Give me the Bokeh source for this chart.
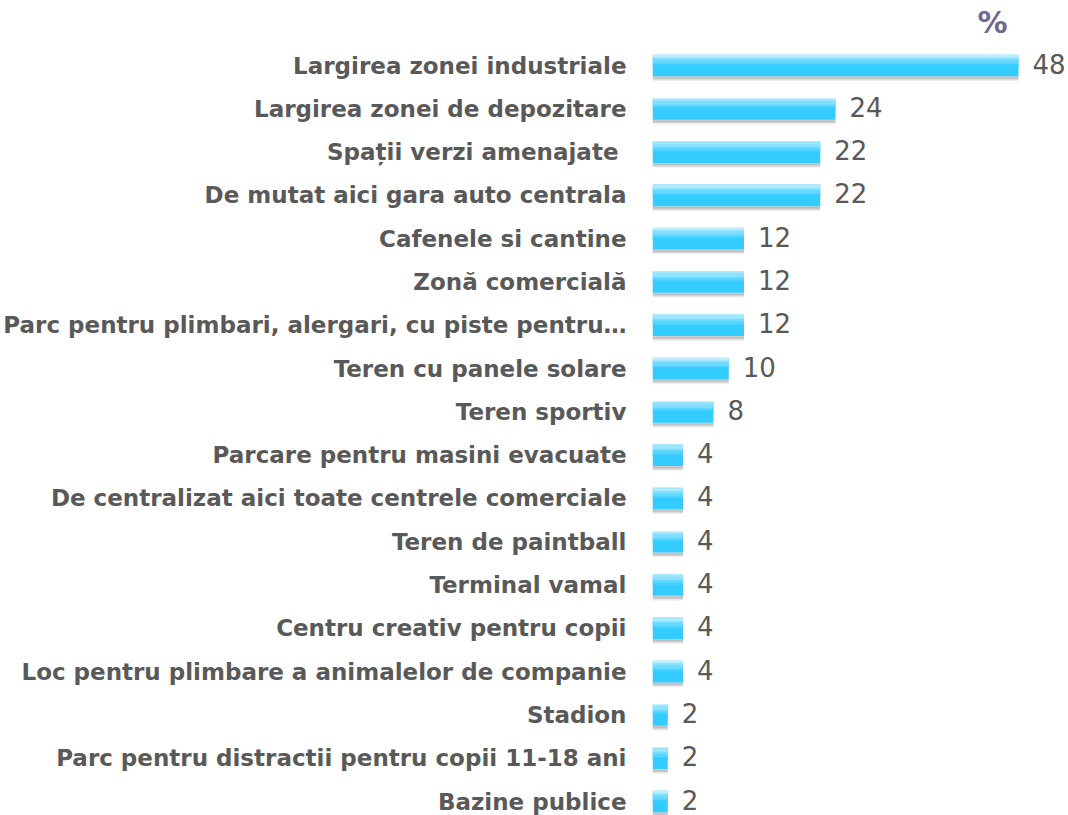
from bokeh.plotting import figure
from bokeh.models import Range1d, FixedTicker, ColumnDataSource, LabelSet
from bokeh.core.properties import value
from bokeh.embed import file_html
from bokeh.resources import INLINE

categories = [
    "Largirea zonei industriale",
    "Largirea zonei de depozitare",
    "Spații verzi amenajate ",
    "De mutat aici gara auto centrala",
    "Cafenele si cantine",
    "Zonă comercială",
    "Parc pentru plimbari, alergari, cu piste pentru…",
    "Teren cu panele solare",
    "Teren sportiv",
    "Parcare pentru masini evacuate",
    "De centralizat aici toate centrele comerciale",
    "Teren de paintball",
    "Terminal vamal",
    "Centru creativ pentru copii",
    "Loc pentru plimbare a animalelor de companie",
    "Stadion",
    "Parc pentru distractii pentru copii 11-18 ani",
    "Bazine publice",
]
values = [48, 24, 22, 22, 12, 12, 12, 10, 8, 4, 4, 4, 4, 4, 4, 2, 2, 2]
unit_label = "%"

n = len(categories)
ys = list(range(n))

p = figure(width=1068, height=815, output_backend="svg", toolbar_location=None,
           x_range=Range1d(0, 54.56), y_range=Range1d(17.323, -1.5015),
           min_border_left=652, min_border_right=0, min_border_top=0, min_border_bottom=0)
p.outline_line_color = None
p.grid.visible = False
p.xaxis.visible = False
yax = p.yaxis[0]
yax.ticker = FixedTicker(ticks=ys)
yax.major_label_overrides = {i: c for i, c in enumerate(categories)}
yax.axis_line_color = None
yax.major_tick_line_color = None
yax.minor_tick_line_color = None
yax.major_label_text_font = "DejaVu Sans"
yax.major_label_text_font_style = "bold"
yax.major_label_text_font_size = "23px"
yax.major_label_text_color = "#595959"
yax.major_label_standoff = 20

bh = 0.5
# shadow
for k, (off, a) in enumerate([(0.08, 0.10), (0.05, 0.18), (0.02, 0.25)]):
    p.hbar(y=[y + bh / 2 + off for y in ys], right=values, left=0, height=0.06,
           fill_color="#555555", fill_alpha=a, line_color=None)
# main bar
p.hbar(y=ys, right=values, left=0, height=bh, fill_color="#33ccff", line_color=None)
# gradient on top half
steps = 10
top_c = (0xc8, 0xf0, 0xff)
bot_c = (0x33, 0xcc, 0xff)
for s in range(steps):
    t = s / (steps - 1)
    c = tuple(int(top_c[i] + (bot_c[i] - top_c[i]) * t) for i in range(3))
    col = "#%02x%02x%02x" % c
    h = bh * 0.55 / steps
    p.hbar(y=[y - bh / 2 + h * (s + 0.5) for y in ys], right=values, left=0, height=h * 1.05,
           fill_color=col, line_color=None)

src = ColumnDataSource(dict(x=values, y=ys, t=[str(v) for v in values]))
labels = LabelSet(x="x", y="y", text="t", source=src, x_offset=14, y_offset=2,
                  text_baseline="middle", text_align="left", text_font=value("DejaVu Sans"),
                  text_font_size="26px", text_color="#595959")
p.add_layout(labels)

p.text(x=[44.6], y=[-0.99], text=[unit_label], text_baseline="middle", text_align="center",
       text_font=value("DejaVu Sans"), text_font_style="bold", text_font_size="30px",
       text_color="#6e6a91")

open("out.html", "w").write(file_html(p, INLINE))
